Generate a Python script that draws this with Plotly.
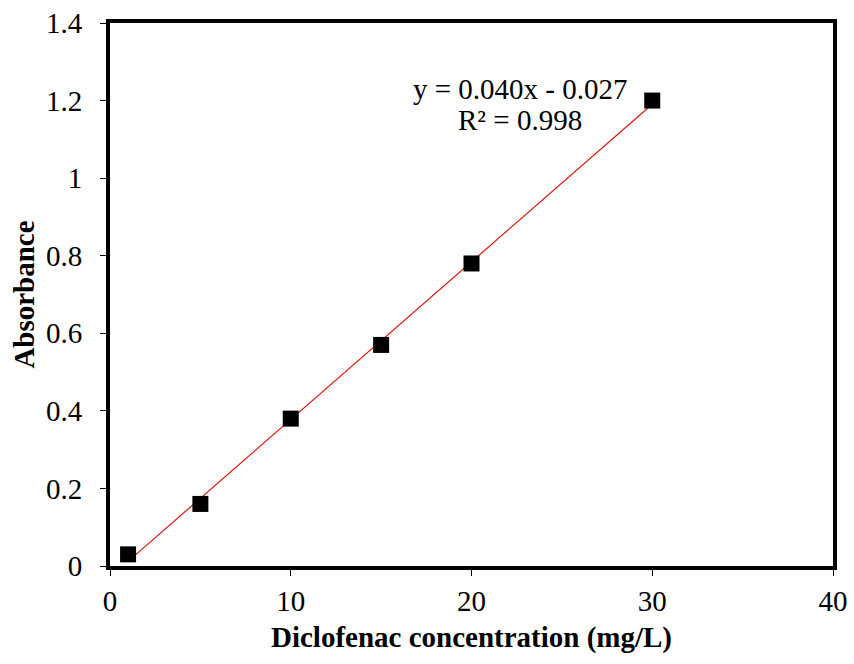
import numpy as np
import plotly.graph_objects as go

# Calibration data: diclofenac concentration vs. absorbance
concentration = [1, 5, 10, 15, 20, 30]
absorbance = [0.03, 0.16, 0.38, 0.57, 0.78, 1.20]

x_ticks = [0, 10, 20, 30, 40]
y_ticks = [0, 0.2, 0.4, 0.6, 0.8, 1, 1.2, 1.4]
y_tick_text = ["0", "0.2", "0.4", "0.6", "0.8", "1", "1.2", "1.4"]

equation_lines = ["y = 0.040x - 0.027", "R² = 0.998"]
equation_line_y = [1.231, 1.149]

# Linear least-squares trendline over the measured range
slope, intercept = np.polyfit(concentration, absorbance, 1)
fit_x = [min(concentration), max(concentration)]
fit_y = [slope * v + intercept for v in fit_x]

font_family = "Liberation Serif, Times New Roman, serif"
fs = 29

fig = go.Figure()
fig.add_trace(go.Scatter(
    x=fit_x, y=fit_y, mode="lines",
    line=dict(color="#e0140c", width=1.2),
    showlegend=False, hoverinfo="skip",
))
fig.add_trace(go.Scatter(
    x=concentration, y=absorbance, mode="markers",
    marker=dict(symbol="square", size=16, color="black"),
    showlegend=False,
))

for line_text, line_y in zip(equation_lines, equation_line_y):
    fig.add_annotation(
        x=22.7, y=line_y, xref="x", yref="y",
        text=line_text, showarrow=False,
        font=dict(family=font_family, size=fs, color="black"),
        align="center", xanchor="center", yanchor="middle",
    )

axis_common = dict(
    showline=True, linewidth=4, linecolor="black", mirror=True,
    ticks="outside", ticklen=6, tickwidth=1, tickcolor="black",
    showgrid=False, zeroline=False,
    tickfont=dict(family=font_family, size=fs, color="black"),
)

fig.update_xaxes(
    range=[0, 40], tickvals=x_ticks,
    title=dict(text="<b>Diclofenac concentration (mg/L)</b>",
               font=dict(family=font_family, size=fs, color="black"),
               standoff=12),
    **axis_common,
)
fig.update_yaxes(
    range=[0, 1.4], tickvals=y_ticks, ticktext=y_tick_text,
    ticklabelstandoff=12,
    title=dict(text="<b>Absorbance</b>",
               font=dict(family=font_family, size=fs, color="black"),
               standoff=4),
    **axis_common,
)

fig.update_layout(
    width=854, height=664,
    margin=dict(l=110, r=21, t=23, b=98, autoexpand=False),
    plot_bgcolor="white", paper_bgcolor="white",
)

fig.write_html("out.html")
